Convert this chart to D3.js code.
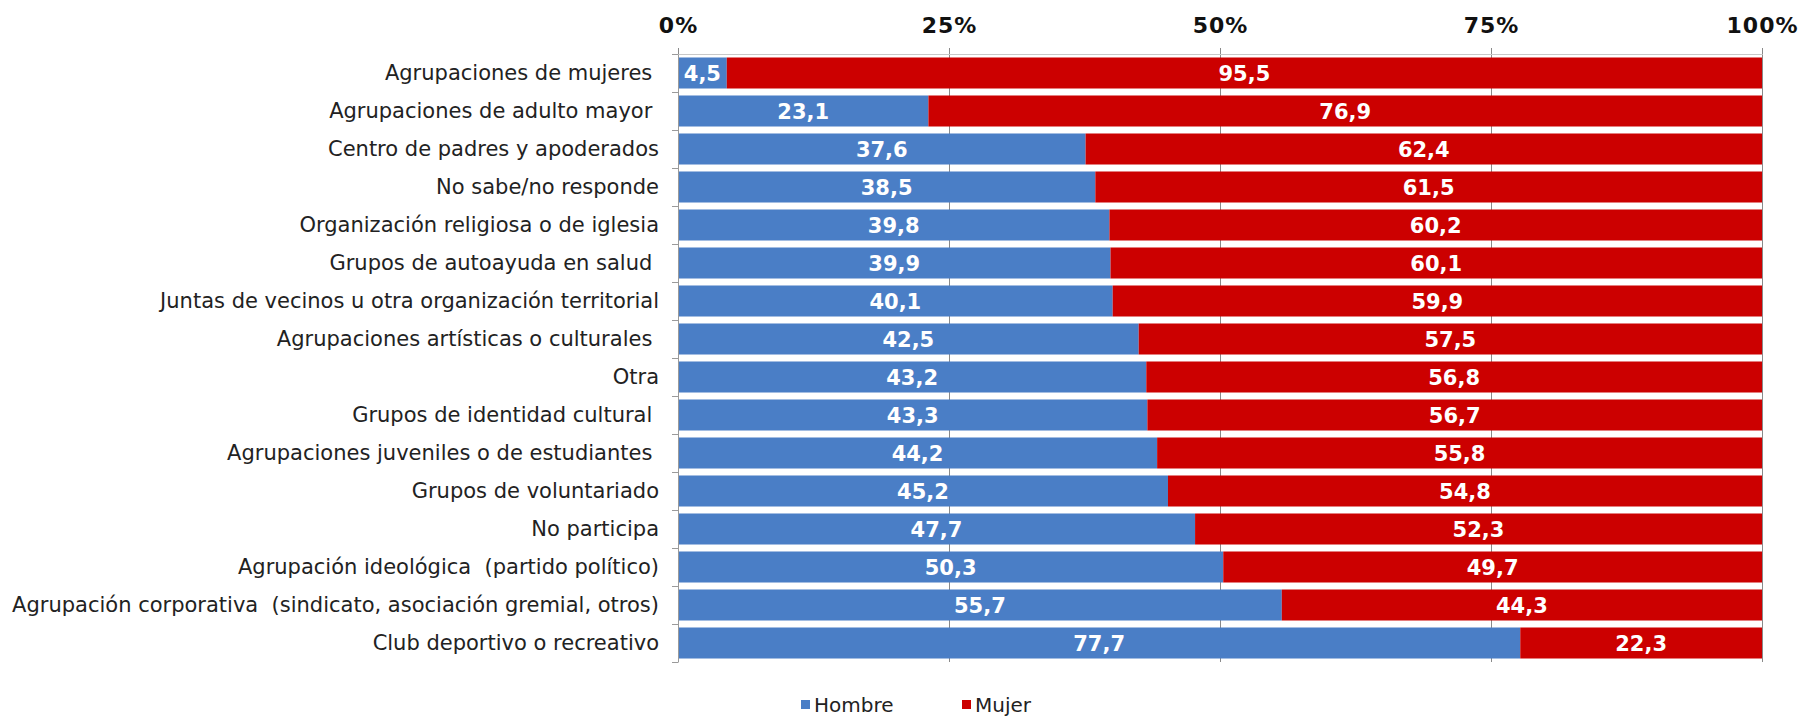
<!DOCTYPE html>
<html>
<head>
<meta charset="utf-8">
<script src="https://cdn.jsdelivr.net/npm/d3@7"></script>
<style>
  html, body { margin: 0; padding: 0; background: #ffffff; }
  svg { display: block; }
  text { white-space: pre; }
</style>
</head>
<body>
<svg id="chart" width="1803" height="717"></svg>
<script>
const categories = [
  "Agrupaciones de mujeres ",
  "Agrupaciones de adulto mayor ",
  "Centro de padres y apoderados",
  "No sabe/no responde",
  "Organización religiosa o de iglesia",
  "Grupos de autoayuda en salud ",
  "Juntas de vecinos u otra organización territorial",
  "Agrupaciones artísticas o culturales ",
  "Otra",
  "Grupos de identidad cultural ",
  "Agrupaciones juveniles o de estudiantes ",
  "Grupos de voluntariado",
  "No participa",
  "Agrupación ideológica  (partido político)",
  "Agrupación corporativa  (sindicato, asociación gremial, otros)",
  "Club deportivo o recreativo"
];
const hombre = [4.5, 23.1, 37.6, 38.5, 39.8, 39.9, 40.1, 42.5, 43.2, 43.3, 44.2, 45.2, 47.7, 50.3, 55.7, 77.7];
const mujer  = [95.5, 76.9, 62.4, 61.5, 60.2, 60.1, 59.9, 57.5, 56.8, 56.7, 55.8, 54.8, 52.3, 49.7, 44.3, 22.3];
const seriesNames = ["Hombre", "Mujer"];
const seriesColors = ["#4a7ec6", "#cc0000"];
const tickValues = [0, 25, 50, 75, 100];

const svg = d3.select("#chart");
const x = d3.scaleLinear().domain([0, 100]).range([678, 1762]);
const y = d3.scaleBand().domain(categories).range([54, 662]).paddingInner(0.184).paddingOuter(0.092);

const locale = d3.formatLocale({decimal: ",", thousands: ".", grouping: [3], currency: ["", ""]});
const fmt = locale.format(".1f");
const FONT = "DejaVu Sans, Verdana, sans-serif";

// gridlines
svg.append("g").selectAll("line").data(tickValues.slice(1)).join("line")
  .attr("x1", d => x(d) + 0.5).attr("x2", d => x(d) + 0.5)
  .attr("y1", 48).attr("y2", 662)
  .attr("stroke", "#8a8a8a").attr("stroke-width", 1);

// stacked data
const stackData = categories.map((c, i) => ({cat: c, Hombre: hombre[i], Mujer: mujer[i]}));
const stack = d3.stack().keys(seriesNames)(stackData);

const layers = svg.append("g").selectAll("g").data(stack).join("g")
  .attr("fill", (d, i) => seriesColors[i]);
layers.selectAll("rect").data(d => d).join("rect")
  .attr("x", d => x(d[0]))
  .attr("width", d => x(d[1]) - x(d[0]))
  .attr("y", d => y(d.data.cat))
  .attr("height", y.bandwidth());

// value labels
const lab = svg.append("g").selectAll("g").data(stack).join("g");
lab.selectAll("text").data(d => d.map(s => ({s, key: d.key}))).join("text")
  .attr("x", d => (x(d.s[0]) + x(d.s[1])) / 2)
  .attr("y", d => y(d.s.data.cat) + y.bandwidth() / 2)
  .attr("dy", "0.36em")
  .attr("text-anchor", "middle")
  .attr("fill", "#ffffff")
  .attr("font-family", FONT)
  .attr("font-weight", "bold")
  .attr("font-size", 21)
  .text(d => fmt(d.s.data[d.key]));

// top axis
const topAxis = svg.append("g").attr("transform", "translate(0,54)")
  .call(d3.axisTop(x).tickValues(tickValues).tickFormat(d => d + "%").tickSize(6).tickPadding(15));
topAxis.select(".domain").attr("stroke", "#c8c8c8");
topAxis.selectAll(".tick line").attr("stroke", "#8a8a8a");
topAxis.selectAll("text")
  .attr("font-family", FONT)
  .attr("font-weight", "bold")
  .attr("font-size", 22)
  .attr("letter-spacing", 1)
  .attr("fill", "#111");

// left axis
const leftAxis = svg.append("g").attr("transform", "translate(678,0)")
  .call(d3.axisLeft(y).tickSize(0).tickPadding(19));
leftAxis.select(".domain").attr("stroke", "#9a9a9a");
leftAxis.selectAll("text")
  .attr("font-family", FONT)
  .attr("font-size", 21)
  .attr("fill", "#222");
// boundary tick marks
const bounds = d3.range(categories.length + 1).map(i => 54 + i * y.step());
svg.append("g").selectAll("line").data(bounds).join("line")
  .attr("x1", 672).attr("x2", 678)
  .attr("y1", d => d + 0.5).attr("y2", d => d + 0.5)
  .attr("stroke", "#9a9a9a");

// legend
const legendX = [801, 962];
const lg = svg.append("g").selectAll("g").data(seriesNames).join("g")
  .attr("transform", (d, i) => `translate(${legendX[i]},0)`);
lg.append("rect").attr("x", 0).attr("y", 700).attr("width", 9).attr("height", 9)
  .attr("fill", (d, i) => seriesColors[i]);
lg.append("text").attr("x", 13).attr("y", 712)
  .attr("font-family", FONT)
  .attr("font-size", 20)
  .attr("fill", "#222")
  .text(d => d);
</script>
</body>
</html>
